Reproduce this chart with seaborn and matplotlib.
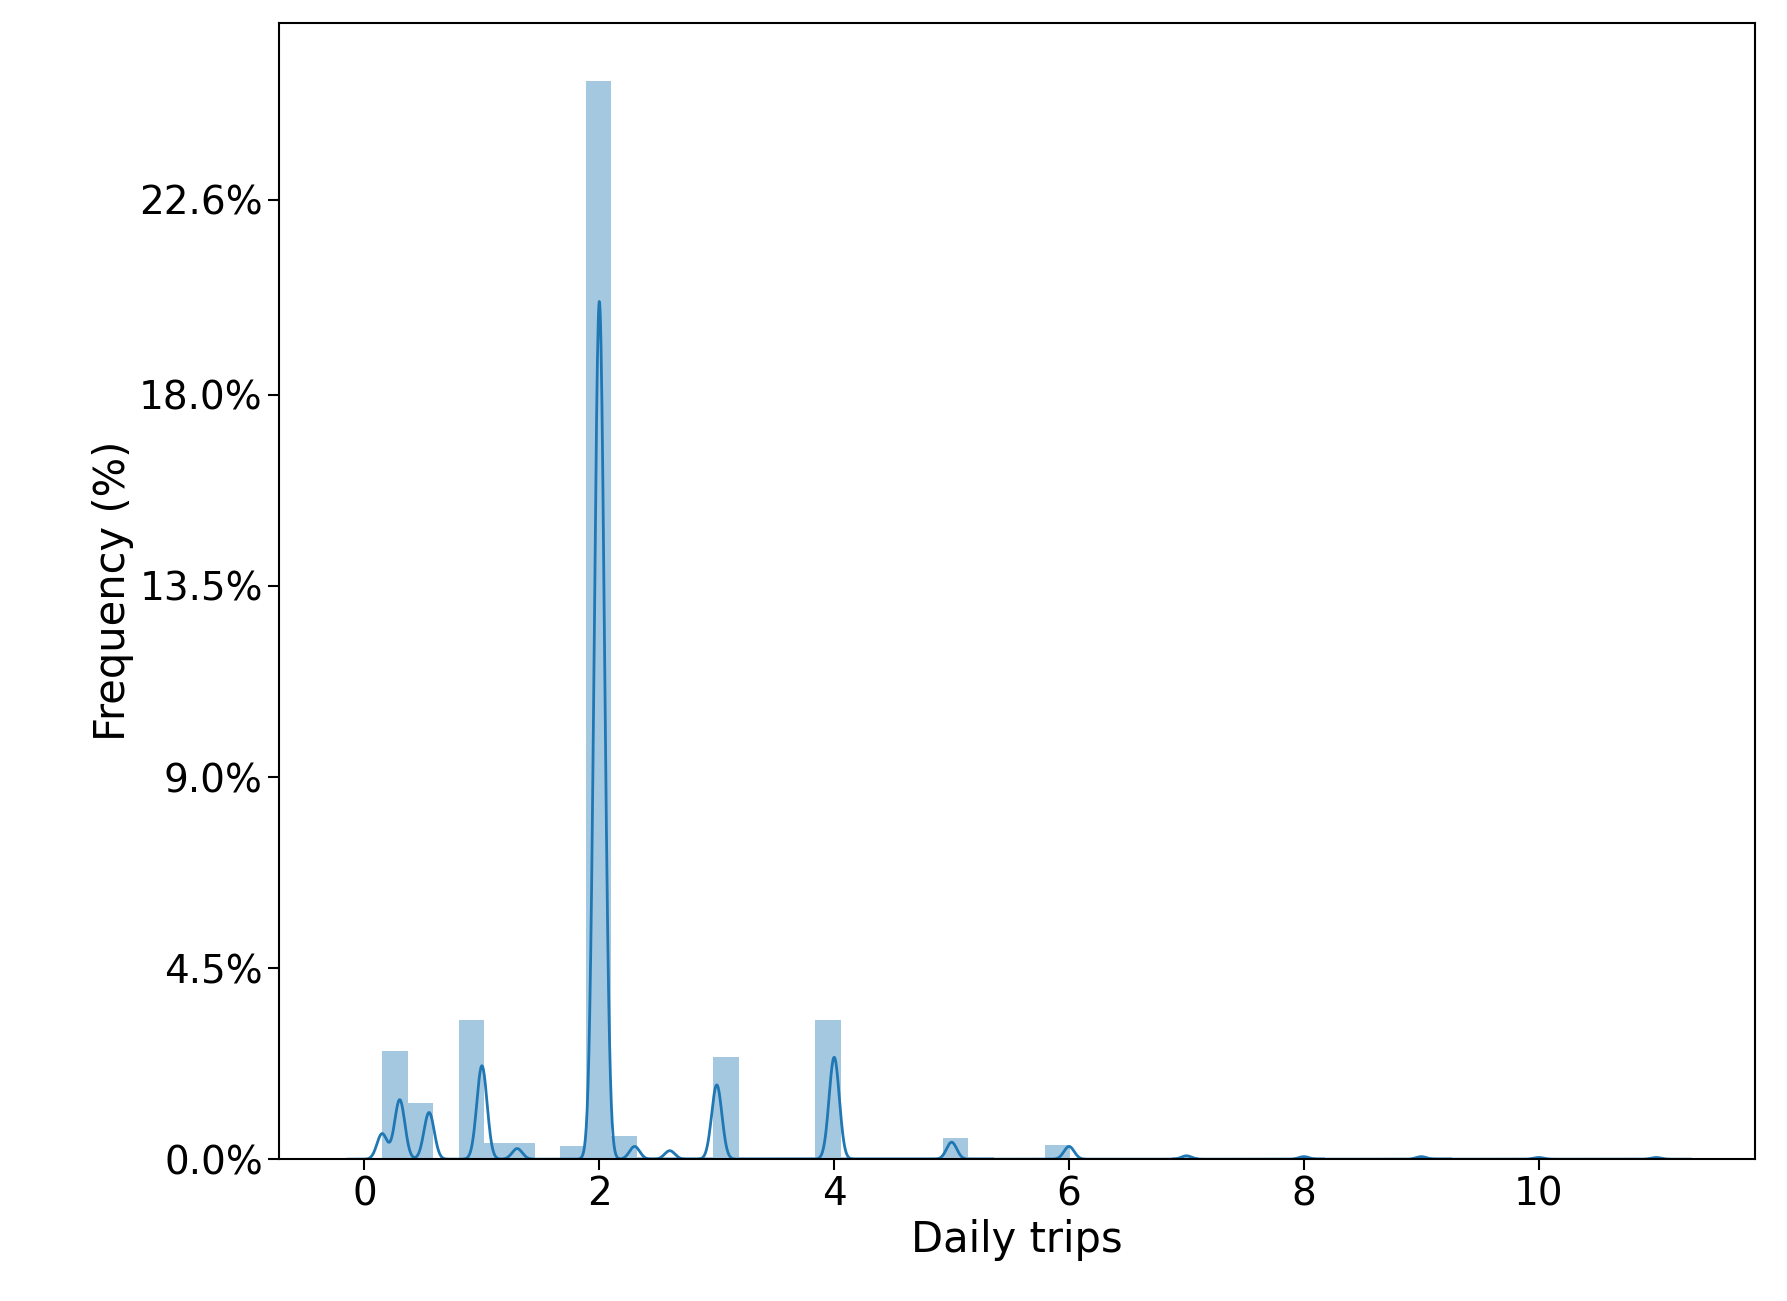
import numpy as np
import matplotlib
matplotlib.use("Agg")
import matplotlib.pyplot as plt
import seaborn as sns

sns.set_style("ticks")
plt.rcParams['font.family'] = ['DejaVu Sans']
plt.rcParams['text.color'] = 'black'
plt.rcParams['axes.labelcolor'] = 'black'
plt.rcParams['xtick.color'] = 'black'
plt.rcParams['ytick.color'] = 'black'

# histogram bins (left edge, width) and heights in %
bin_start = 0.15
bin_width = 0.217
bar_heights = [2.55, 1.33, 0.0, 3.28, 0.38, 0.38, 0.0, 0.30, 25.4, 0.54,
               0.05, 0.05, 0.05, 2.41, 0.05, 0.05, 0.05, 3.28, 0.05, 0.05,
               0.05, 0.05, 0.51, 0.05, 0.03, 0.03, 0.33, 0.03, 0.03, 0.03,
               0.03, 0.05, 0.03, 0.03, 0.03, 0.03, 0.05, 0.03, 0.03, 0.03,
               0.03, 0.05, 0.03, 0.03, 0.03, 0.03, 0.03, 0.03, 0.03, 0.03,
               0.03]

# KDE source: trip values and weights
kde_values = [0.15, 0.3, 0.55, 1.0, 1.3, 2.0, 2.3, 2.6, 3.0, 4.0, 5.0, 6.0, 7.0, 8.0, 9.0, 10.0, 11.0]
kde_weights = [0.6, 1.4, 1.1, 2.2, 0.25, 20.2, 0.3, 0.2, 1.75, 2.4, 0.4, 0.3, 0.08, 0.06, 0.06, 0.04, 0.04]
kde_peak = 20.2

y_ticks = [0.0, 4.5, 9.0, 13.5, 18.0, 22.6]
y_ticklabels = ["0.0%", "4.5%", "9.0%", "13.5%", "18.0%", "22.6%"]

fig = plt.figure(figsize=(17.87, 13.01), dpi=100)
ax = fig.add_axes([0.156, 0.109, 0.826, 0.873])

lefts = bin_start + bin_width * np.arange(len(bar_heights))
ax.bar(lefts, bar_heights, width=bin_width, align="edge", color="#1f77b4", alpha=0.4, linewidth=0)

sns.kdeplot(x=kde_values, weights=kde_weights, bw_method=0.028, ax=ax, color="#1f77b4",
            linewidth=2, gridsize=3000, cut=3, clip=(-0.2, 11.3))
line = ax.lines[-1]
yd = line.get_ydata()
line.set_ydata(yd / yd.max() * kde_peak)

ax.set_xlim(-0.73, 11.84)
ax.set_ylim(0, 26.75)
ax.set_yticks(y_ticks)
ax.set_yticklabels(y_ticklabels)
ax.set_xticks([0, 2, 4, 6, 8, 10])
ax.tick_params(labelsize=28, length=8, width=1.5)
ax.set_xlabel("Daily trips", fontsize=30)
ax.set_ylabel("Frequency (%)", fontsize=30)
for s in ax.spines.values():
    s.set_linewidth(1.5)
    s.set_color("black")

fig.savefig("out.png", dpi=100)
